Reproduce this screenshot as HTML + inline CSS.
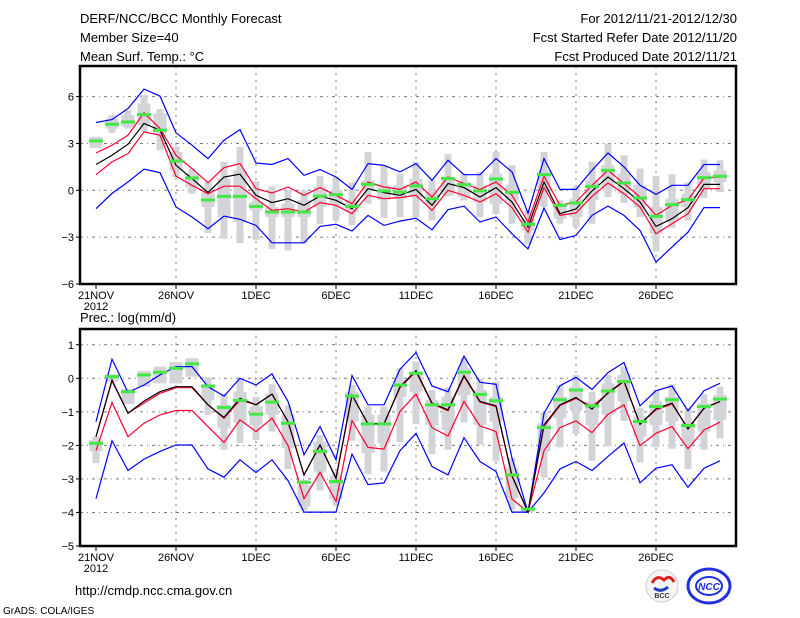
<!DOCTYPE html>
<html><head><meta charset="utf-8"><style>
body{margin:0;background:#fff;}
svg{display:block;font-family:"Liberation Sans",sans-serif;}
</style></head><body>
<svg id="chart" width="800" height="618" viewBox="0 0 800 618">
<g font-size="13" fill="#000">
<text x="80" y="23">DERF/NCC/BCC Monthly Forecast</text>
<text x="80" y="42">Member Size=40</text>
<text x="80" y="61">Mean Surf. Temp.: °C</text>
<text x="737" y="23" text-anchor="end">For 2012/11/21-2012/12/30</text>
<text x="737" y="42" text-anchor="end">Fcst Started Refer Date 2012/11/20</text>
<text x="737" y="61" text-anchor="end">Fcst Produced Date 2012/11/21</text>
<text x="80" y="322">Prec.: log(mm/d)</text>
<text x="75" y="595">http://cmdp.ncc.cma.gov.cn</text>
<text x="3" y="614" font-size="10">GrADS: COLA/IGES</text>
</g>
<g>
<circle cx="662" cy="586" r="16" fill="#f4f4f4" stroke="#ccc"/>
<path d="M652 583 q5 -9 12 -3 q6 -6 10 2" stroke="#e02020" stroke-width="3" fill="none"/>
<path d="M654 588 q7 5 14 -1" stroke="#2040c0" stroke-width="3" fill="none"/>
<text x="662" y="598" font-size="7" text-anchor="middle" font-weight="bold" fill="#333">BCC</text>
</g>
<g>
<ellipse cx="709" cy="586" rx="21" ry="17" fill="none" stroke="#2030e0" stroke-width="3"/>
<ellipse cx="709" cy="586" rx="13" ry="9" fill="none" stroke="#2030e0" stroke-width="2"/>
<text x="709" y="590" font-size="10" text-anchor="middle" font-style="italic" font-weight="bold" fill="#2030e0">NCC</text>
</g>
</svg>
<script>
// ---------- Temperature panel data ----------
const days = ["21NOV","26NOV","1DEC","6DEC","11DEC","16DEC","21DEC","26DEC"];
const tempTicks = [6,3,0,-3,-6];
const precTicks = [1,0,-1,-2,-3,-4,-5];
const tBlueHi = [4.34,4.53,5.24,6.48,6.03,3.68,2.89,2.03,3.21,3.89,1.75,1.65,2.03,0.96,1.33,0.85,0.06,1.71,1.6,1.18,1.71,0.64,1.92,1.0,1.0,2.03,1.18,-1.46,2.03,0.06,0.06,1.28,2.39,1.5,0.32,-0.26,0.32,0.32,1.65,1.65];
const tRedHi = [2.39,2.89,3.53,4.96,3.96,2.24,1.39,0.49,1.45,1.71,0.1,-0.17,0.21,-0.32,0.17,-0.32,-0.86,0.53,0.21,0.06,0.53,-0.43,0.85,0.43,0.06,0.53,-0.32,-2.03,0.9,-0.96,-0.75,0.32,1.28,0.43,-0.43,-1.61,-0.96,-0.6,0.79,0.85];
const tMean = [1.65,2.24,2.95,4.28,3.85,1.6,0.75,-0.15,0.85,1.03,-0.32,-0.79,-0.54,-0.96,-0.37,-0.64,-1.18,0.1,-0.15,-0.32,0.06,-0.96,0.43,0.17,-0.43,0.17,-0.75,-2.36,0.53,-1.5,-1.2,-0.04,0.85,0.1,-0.75,-2.31,-1.82,-1.11,0.38,0.38];
const tRedLo = [1.0,1.82,2.35,3.74,3.53,0.9,0.32,-0.22,0.26,0.26,-0.54,-1.29,-1.18,-1.39,-0.79,-0.96,-1.5,-0.32,-0.54,-0.47,-0.32,-1.29,0,-0.32,-0.75,-0.22,-1.11,-2.68,0.17,-1.61,-1.45,-0.39,0.47,-0.22,-1.07,-2.78,-2.14,-1.5,0.1,0.1];
const tBlueLo = [-1.18,-0.2,0.53,1.35,1.13,-1.07,-1.71,-2.46,-1.65,-1.86,-2.25,-3.36,-3.36,-3.36,-2.31,-2.18,-2.61,-1.61,-2.25,-1.97,-1.78,-2.53,-1.24,-1.01,-2.03,-1.71,-2.78,-3.75,-1.14,-3.15,-2.89,-1.61,-1.01,-1.61,-2.57,-4.6,-3.64,-2.68,-1.11,-1.11];
const tObs = [3.16,4.23,4.38,4.85,3.85,1.88,0.79,-0.62,-0.39,-0.39,-1.03,-1.39,-1.39,-1.39,-0.37,-0.28,-1.03,0.38,-0.04,-0.11,0.28,-0.54,0.75,0.36,-0.04,0.73,-0.13,-2.18,1.0,-0.96,-0.81,0.25,1.28,0.47,-0.49,-1.67,-0.92,-0.6,0.81,0.9];
const tWhiskHi = [3.42,4.81,5.13,6.1,5.2,2.82,1.39,0.53,1.82,2.78,0.58,0.25,0,0,0.9,0.85,0.49,2.46,1.6,1.07,1.82,0.64,2.3,1.07,1.18,2.46,1.6,-1.29,2.46,-0.64,0.25,1.82,2.99,2.24,1.39,0.9,1.03,0.49,1.97,1.92];
const tWhiskLo = [2.72,3.68,3.96,3.74,2.57,0.81,-0.22,-2.74,-3.1,-3.38,-3.17,-3.75,-3.85,-3.38,-2.14,-1.93,-2.25,-0.86,-1.76,-1.71,-1.71,-1.93,-0.39,-0.64,-1.71,-1.5,-2.14,-3.43,-1.07,-2.14,-2.36,-2.14,-0.43,-0.81,-1.71,-3.92,-2.4,-1.93,-0.49,-0.11];
const tBoxHi = [3.42,4.6,4.81,5.56,4.92,2.46,1.07,-0.11,0.75,1.28,-0.75,-1.07,-0.86,-0.64,0.21,0,-0.64,0.64,0.32,0.32,0.75,-0.11,0.85,0.53,0.32,1.07,0.32,-1.82,1.28,-0.86,-0.54,0.64,1.6,1.07,0.32,-1.07,-0.54,-0.22,1.18,1.28];
const tBoxLo = [2.72,3.96,4.06,4.17,3.63,1.28,0.21,-1.07,-1.71,-2.03,-1.29,-1.71,-1.71,-1.71,-1.07,-0.86,-1.39,0,-0.64,-0.54,-0.43,-0.96,-0.32,-0.43,-0.75,-0.86,-0.64,-2.57,0,-1.82,-1.71,-0.64,0.1,-0.22,-1.07,-2.78,-1.93,-1.07,0.1,0.53];
// ---------- Precipitation panel data ----------
const pBlueHi = [-1.29,0.57,-0.42,-0.2,0.1,0.35,0.35,-0.25,-0.53,0,-0.2,0.13,-0.69,-2.28,-1.44,-2.43,0.08,-0.79,-0.79,0.27,0.77,-0.23,-0.4,0.66,-0.12,-0.18,-2.38,-3.99,-1.04,-0.22,0.03,-0.33,0.17,0.47,-0.82,-0.37,-0.23,-0.97,-0.37,-0.15];
const pMean = [-1.74,-0.05,-1.04,-0.68,-0.4,-0.25,-0.25,-0.79,-1.17,-0.6,-0.79,-0.47,-1.29,-2.88,-1.99,-2.98,-0.5,-1.36,-1.36,-0.25,0.23,-0.74,-0.94,0.08,-0.69,-0.82,-2.9,-3.99,-1.39,-0.79,-0.57,-0.92,-0.43,-0.08,-1.37,-0.91,-0.74,-1.51,-0.89,-0.69];
const pRedHi = [-1.74,-0.08,-1.04,-0.74,-0.45,-0.28,-0.28,-0.79,-1.19,-0.65,-0.79,-0.47,-1.29,-2.88,-1.99,-2.98,-0.5,-1.36,-1.36,-0.28,0.2,-0.76,-0.97,0.05,-0.71,-0.84,-2.93,-3.99,-1.44,-0.81,-0.6,-0.84,-0.45,-0.1,-1.37,-0.94,-0.77,-1.49,-0.89,-0.69];
const pRedLo = [-2.16,-0.72,-1.74,-1.34,-1.09,-0.96,-0.96,-1.44,-1.91,-1.24,-1.59,-1.19,-2.0,-3.59,-2.81,-3.67,-1.26,-2.06,-2.11,-0.99,-0.47,-1.47,-1.72,-0.69,-1.42,-1.59,-3.6,-3.99,-2.16,-1.47,-1.27,-1.62,-1.07,-0.79,-2.01,-1.64,-1.44,-2.1,-1.54,-1.31];
const pBlueLo = [-3.59,-1.86,-2.75,-2.41,-2.18,-1.99,-1.99,-2.7,-2.95,-2.43,-2.81,-2.43,-3.05,-3.99,-3.99,-3.99,-2.26,-3.17,-3.12,-2.16,-1.64,-2.63,-2.88,-1.77,-2.48,-2.78,-3.99,-3.99,-3.42,-2.7,-2.48,-2.75,-2.33,-1.93,-3.12,-2.68,-2.58,-3.25,-2.68,-2.46];
const pObs = [-1.94,0.05,-0.4,0.1,0.18,0.3,0.43,-0.23,-0.87,-0.66,-1.07,-0.71,-1.34,-3.1,-2.18,-3.08,-0.53,-1.36,-1.36,-0.2,0.15,-0.79,-0.79,0.18,-0.48,-0.67,-2.88,-3.9,-1.47,-0.64,-0.35,-0.82,-0.38,-0.1,-1.29,-0.84,-0.64,-1.41,-0.84,-0.62];
const pWhiskHi = [-1.74,0.12,-0.32,0.22,0.35,0.48,0.6,0.03,-0.45,-0.05,-0.55,-0.18,-0.81,-3.03,-1.69,-2.78,-0.2,-0.84,-0.84,0.3,0.5,-0.35,-0.27,0.6,-0.02,-0.1,-2.38,-3.83,-1.01,-0.2,0.1,-0.4,0.1,0.35,-0.89,-0.35,-0.18,-0.89,-0.47,-0.25];
const pWhiskLo = [-2.53,-0.1,-0.77,-0.25,-0.15,-0.15,0.05,-1.09,-2.13,-1.93,-1.84,-1.59,-2.71,-3.94,-3.34,-3.79,-1.86,-2.86,-2.78,-1.9,-1.36,-2.26,-2.13,-1.32,-1.98,-2.48,-3.92,-3.99,-2.96,-2.06,-1.66,-2.46,-2.03,-1.27,-2.51,-2.06,-2.1,-2.71,-2.13,-1.79];
const pBoxHi = [-1.84,0.12,-0.32,0.22,0.35,0.48,0.6,-0.2,-0.79,-0.4,-0.84,-0.45,-1.09,-3.18,-1.89,-2.9,-0.4,-1.09,-1.09,-0.05,0.2,-0.65,-0.55,0.3,-0.35,-0.55,-2.68,-3.83,-1.34,-0.55,-0.25,-0.69,-0.15,0.1,-1.14,-0.69,-0.55,-1.29,-0.74,-0.5];
const pBoxLo = [-2.18,-0.1,-0.77,-0.25,-0.15,-0.15,0.05,-0.65,-1.49,-1.34,-1.39,-1.09,-2.08,-3.82,-2.78,-3.6,-1.29,-2.23,-1.94,-0.55,-0.4,-1.39,-1.54,-0.5,-1.39,-1.29,-3.57,-3.99,-2.18,-1.19,-0.97,-1.39,-1.09,-0.69,-1.74,-1.39,-1.29,-1.99,-1.59,-1.24];

const NS = "http://www.w3.org/2000/svg";
const svg = document.getElementById("chart");
function mk(tag, attrs, parent){const e=document.createElementNS(NS,tag);for(const k in attrs)e.setAttribute(k,attrs[k]);parent.appendChild(e);return e;}
const X0 = 80, X1 = 736;
function xDay(i){return 96 + i*16;}

function drawPanel(cfg){
  const g = mk("g",{},svg);
  
  
  const y = v => cfg.y0 + (cfg.vTop - v) * (cfg.y1 - cfg.y0) / (cfg.vTop - cfg.vBot);
  cfg.ticks.forEach(t=>{
    const yy=y(t);
    if(yy>cfg.y0+2 && yy<cfg.y1-2){
      const l=mk("line",{x1:X0,x2:X1,y1:yy,y2:yy,stroke:"#777","stroke-width":1,"stroke-dasharray":"3,4,1,4"},g);
      
      
    }
    const tk=mk("line",{x1:X0-4,x2:X0,y1:yy,y2:yy,stroke:"#000"},g);
    
    
    const tx=mk("text",{x:X0-6,y:yy+4,"text-anchor":"end","font-size":11},g);
    tx.textContent = t<0 ? "\u2212"+(-t) : String(t);
    
    
  });
  days.forEach((d,k)=>{
    const xx=xDay(k*5);
    if(k>0){
      const l=mk("line",{x1:xx,x2:xx,y1:cfg.y0,y2:cfg.y1,stroke:"#777","stroke-dasharray":"2,5"},g);
      
      
    }
    const tk=mk("line",{x1:xx,x2:xx,y1:cfg.y1,y2:cfg.y1+5,stroke:"#000"},g);
    
    
    const tx=mk("text",{x:xx,y:cfg.y1+15,"text-anchor":"middle","font-size":11},g);
    tx.textContent=d;
    
    
  });
  const yr=mk("text",{x:96,y:cfg.y1+26,"text-anchor":"middle","font-size":11},g);
  yr.textContent="2012";
  
  
  for(let i=0;i<cfg.wh.length;i++){
    const x=xDay(i);
    const w=mk("rect",{x:x-3.5,y:y(cfg.wh[i]),width:7,height:Math.max(1,y(cfg.wl[i])-y(cfg.wh[i])),fill:"#d3d4d8"},g);
    
    
    const b=mk("rect",{x:x-6.5,y:y(cfg.bh[i]),width:13,height:Math.max(1,y(cfg.bl[i])-y(cfg.bh[i])),fill:"#d3d4d8"},g);
    
    
  }
  cfg.lines.forEach(L=>{
    const pts=L.data.map((v,i)=>xDay(i)+","+y(v).toFixed(1)).join(" ");
    const p=mk("polyline",{points:pts,fill:"none",stroke:L.color,"stroke-width":1.2},g);
    
    
  });
  cfg.obs.forEach((v,i)=>{
    const r=mk("rect",{x:xDay(i)-7,y:y(v)-1.5,width:14,height:3,fill:"#44e844"},g);
    
    
  });
  const fr=mk("rect",{x:X0,y:cfg.y0,width:X1-X0,height:cfg.y1-cfg.y0,fill:"none",stroke:"#000","stroke-width":2.5},g);
  
  
}

drawPanel({name:"temperature-panel",y0:66,y1:284,vTop:7.96,vBot:-6,ticks:tempTicks,
  wh:tWhiskHi,wl:tWhiskLo,bh:tBoxHi,bl:tBoxLo,obs:tObs,
  lines:[{data:tBlueHi,color:"#0000ff",name:"temp-max-line"},{data:tBlueLo,color:"#0000ff",name:"temp-min-line"},
         {data:tRedHi,color:"#ff0030",name:"temp-upper-line"},{data:tRedLo,color:"#ff0030",name:"temp-lower-line"},
         {data:tMean,color:"#000",name:"temp-mean-line"}]});
drawPanel({name:"precipitation-panel",y0:329,y1:546,vTop:1.47,vBot:-5,ticks:precTicks,
  wh:pWhiskHi,wl:pWhiskLo,bh:pBoxHi,bl:pBoxLo,obs:pObs,
  lines:[{data:pBlueHi,color:"#0000ff",name:"prec-max-line"},{data:pBlueLo,color:"#0000ff",name:"prec-min-line"},
         {data:pRedLo,color:"#ff0030",name:"prec-lower-line"},{data:pRedHi,color:"#ff0030",name:"prec-upper-line"},
         {data:pMean,color:"#000",name:"prec-mean-line"}]});
</script>
</body></html>
